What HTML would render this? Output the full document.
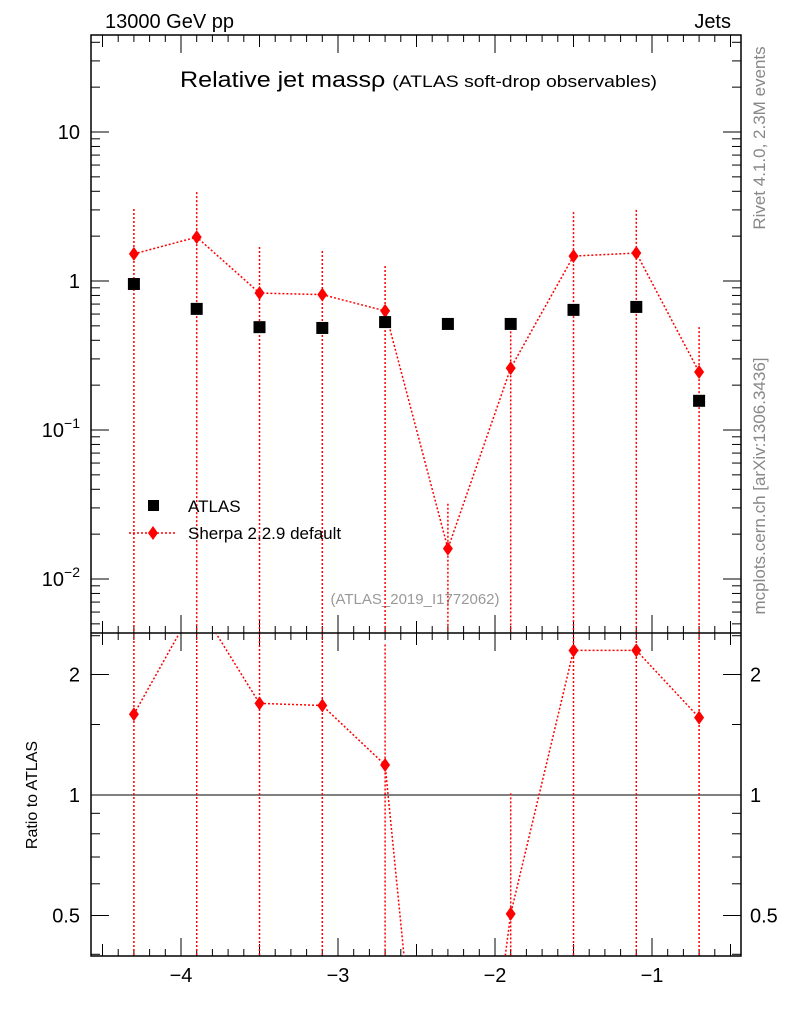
<!DOCTYPE html>
<html><head><meta charset="utf-8"><style>
html,body{margin:0;padding:0;background:#fff;overflow:hidden;width:786px;height:1024px}
svg{display:block;font-family:"Liberation Sans",sans-serif}
</style></head><body>
<svg id="c" width="786" height="1024"></svg>
<script>
const xs=[-4.3,-3.9,-3.5,-3.1,-2.7,-2.3,-1.9,-1.5,-1.1,-0.7];
const atlasVals=[0.955,0.65,0.49,0.484,0.53,0.515,0.515,0.64,0.67,0.157];
const sherpaVals=[1.52,1.97,0.83,0.81,0.63,0.016,0.26,1.47,1.54,0.245];
const sherpaErrUp=[3.04,3.95,1.69,1.59,1.26,0.032,0.52,2.9,3.0,0.49];
const xTicks=[-4,-3,-2,-1];
const yTicksMain=[10,1,0.1,0.01];
const yTicksRatio=[2,1,0.5];

const NS="http://www.w3.org/2000/svg";
const svg=document.getElementById('c');
const L=91,R=741,T=35,MB=632,RT=634,RB=956;
const X=v=>181+(v+4)*157;
const YM=v=>281-Math.log10(v)*149;
const YR=v=>795-Math.log2(v)*120.5;
function el(t,a,p){const e=document.createElementNS(NS,t);for(const k in a)e.setAttribute(k,a[k]);(p||svg).appendChild(e);return e;}
const defs=el('defs',{});
(function(){const c=document.createElementNS(NS,'clipPath');c.setAttribute('id','cm');defs.appendChild(c);el('rect',{x:L,y:T,width:R-L,height:MB-T},c);
const c2=document.createElementNS(NS,'clipPath');c2.setAttribute('id','cr');defs.appendChild(c2);el('rect',{x:L,y:RT,width:R-L,height:RB-RT},c2);})();

let t=el('text',{x:105,y:28,'font-size':20});t.textContent='13000 GeV pp';

t=el('text',{x:731,y:28,'font-size':20,'text-anchor':'end'});t.textContent='Jets';

t=el('text',{x:180,y:87,'font-size':22,textLength:477,lengthAdjust:'spacingAndGlyphs'});t.innerHTML='Relative jet mass\u03c1 <tspan font-size="17">(ATLAS soft-drop observables)</tspan>';

t=el('text',{x:0,y:0,'font-size':17,fill:'#888','text-anchor':'middle',transform:'translate(765,138) rotate(-90)'});t.textContent='Rivet 4.1.0,  2.3M events';

t=el('text',{x:0,y:0,'font-size':17,fill:'#888','text-anchor':'middle',transform:'translate(765,486) rotate(-90)'});t.textContent='mcplots.cern.ch [arXiv:1306.3436]';

t=el('text',{x:415,y:604,'font-size':15,fill:'#999','text-anchor':'middle'});t.textContent='(ATLAS_2019_I1772062)';

t=el('text',{x:0,y:0,'font-size':16,'text-anchor':'middle',transform:'translate(37,795) rotate(-90)'});t.textContent='Ratio to ATLAS';


el('rect',{x:L,y:T,width:R-L,height:RB-T,fill:'none',stroke:'#000','stroke-width':1.5});
el('line',{x1:L,x2:R,y1:633,y2:633,stroke:'#000','stroke-width':1.5});
for(let i=-46;i<=-4;i++){const v=i/10;const x=X(v);if(x<L||x>R)continue;
 const len=(i%10===0)?18:(i%5===0?12:7);
 el('line',{x1:x,x2:x,y1:RB,y2:RB-len,stroke:'#000'});
 el('line',{x1:x,x2:x,y1:T,y2:T+len,stroke:'#000'});
 el('line',{x1:x,x2:x,y1:633,y2:633-len,stroke:'#000'});
 el('line',{x1:x,x2:x,y1:633,y2:633+len,stroke:'#000'});}
xTicks.forEach(v=>{const tx=el('text',{x:X(v),y:982,'font-size':20,'text-anchor':'middle'});tx.textContent='\u2212'+Math.abs(v);
});
for(let d=-3;d<=1;d++)for(let m=1;m<=9;m++){const v=m*Math.pow(10,d);const y=YM(v);if(y<T||y>MB)continue;
 const len=m===1?18:9;el('line',{x1:L,x2:L+len,y1:y,y2:y,stroke:'#000'});el('line',{x1:R,x2:R-len,y1:y,y2:y,stroke:'#000'});}
yTicksMain.forEach(v=>{const y=YM(v);let tx;
 if(v>=1){tx=el('text',{x:80,y:y+7,'font-size':20,'text-anchor':'end'});tx.textContent=String(v);}
 else{const e=Math.round(Math.log10(v));tx=el('text',{x:80,y:y+7,'font-size':20,'text-anchor':'end'});tx.innerHTML='10<tspan font-size="14" dy="-9">\u2212'+Math.abs(e)+'</tspan>';}
 });
[0.4,0.5,0.6,0.7,0.8,0.9,1,1.5,2,2.5].forEach(v=>{const y=YR(v);if(y<RT||y>RB)return;const len=[0.5,1,2].includes(v)?18:9;
 el('line',{x1:L,x2:L+len,y1:y,y2:y,stroke:'#000'});el('line',{x1:R,x2:R-len,y1:y,y2:y,stroke:'#000'});});
yTicksRatio.forEach(v=>{const y=YR(v);
 let tx=el('text',{x:80,y:y+7,'font-size':20,'text-anchor':'end'});tx.textContent=String(v);
 
 tx=el('text',{x:750,y:y+7,'font-size':20});tx.textContent=String(v);
 });
el('line',{x1:L,x2:R,y1:YR(1),y2:YR(1),stroke:'#000','stroke-width':1});

const gm=el('g',{'clip-path':'url(#cm)'});
const dash={stroke:'#f00','stroke-width':1.5,'stroke-dasharray':'2,2',fill:'none'};
xs.forEach((x,i)=>{const ln=el('line',Object.assign({x1:X(x),x2:X(x),y1:YM(sherpaErrUp[i]),y2:MB},dash),gm);
 });
let p=el('polyline',Object.assign({points:xs.map((x,i)=>X(x)+','+YM(sherpaVals[i])).join(' ')},dash),gm);

function diamond(cx,cy,g){return el('polygon',{points:`${cx},${cy-7} ${cx+5},${cy} ${cx},${cy+7} ${cx-5},${cy}`,fill:'#f00'},g);}
xs.forEach((x,i)=>{const d=diamond(X(x),YM(sherpaVals[i]),gm);
 });
xs.forEach((x,i)=>{const r=el('rect',{x:X(x)-6,y:YM(atlasVals[i])-6,width:12,height:12,fill:'#000'},gm);
 });

const gr=el('g',{'clip-path':'url(#cr)'});
const ratio=sherpaVals.map((v,i)=>v/atlasVals[i]);
xs.forEach((x,i)=>{const ln=el('line',Object.assign({x1:X(x),x2:X(x),y1:Math.max(YR(sherpaErrUp[i]/atlasVals[i]),RT-5),y2:RB},dash),gr);
 });
p=el('polyline',Object.assign({points:xs.map((x,i)=>X(x)+','+YR(ratio[i])).join(' ')},dash),gr);

xs.forEach((x,i)=>{const d=diamond(X(x),YR(ratio[i]),gr);
 });

const lg=el('g',{});
el('rect',{x:148,y:500,width:11,height:11,fill:'#000'},lg);
t=el('text',{x:188,y:512,'font-size':17},lg);t.textContent='ATLAS';
el('line',Object.assign({x1:129,x2:176,y1:533,y2:533},dash),lg);
diamond(153,533,lg);
t=el('text',{x:188,y:539,'font-size':17},lg);t.textContent='Sherpa 2.2.9 default';
</script>
</body></html>
